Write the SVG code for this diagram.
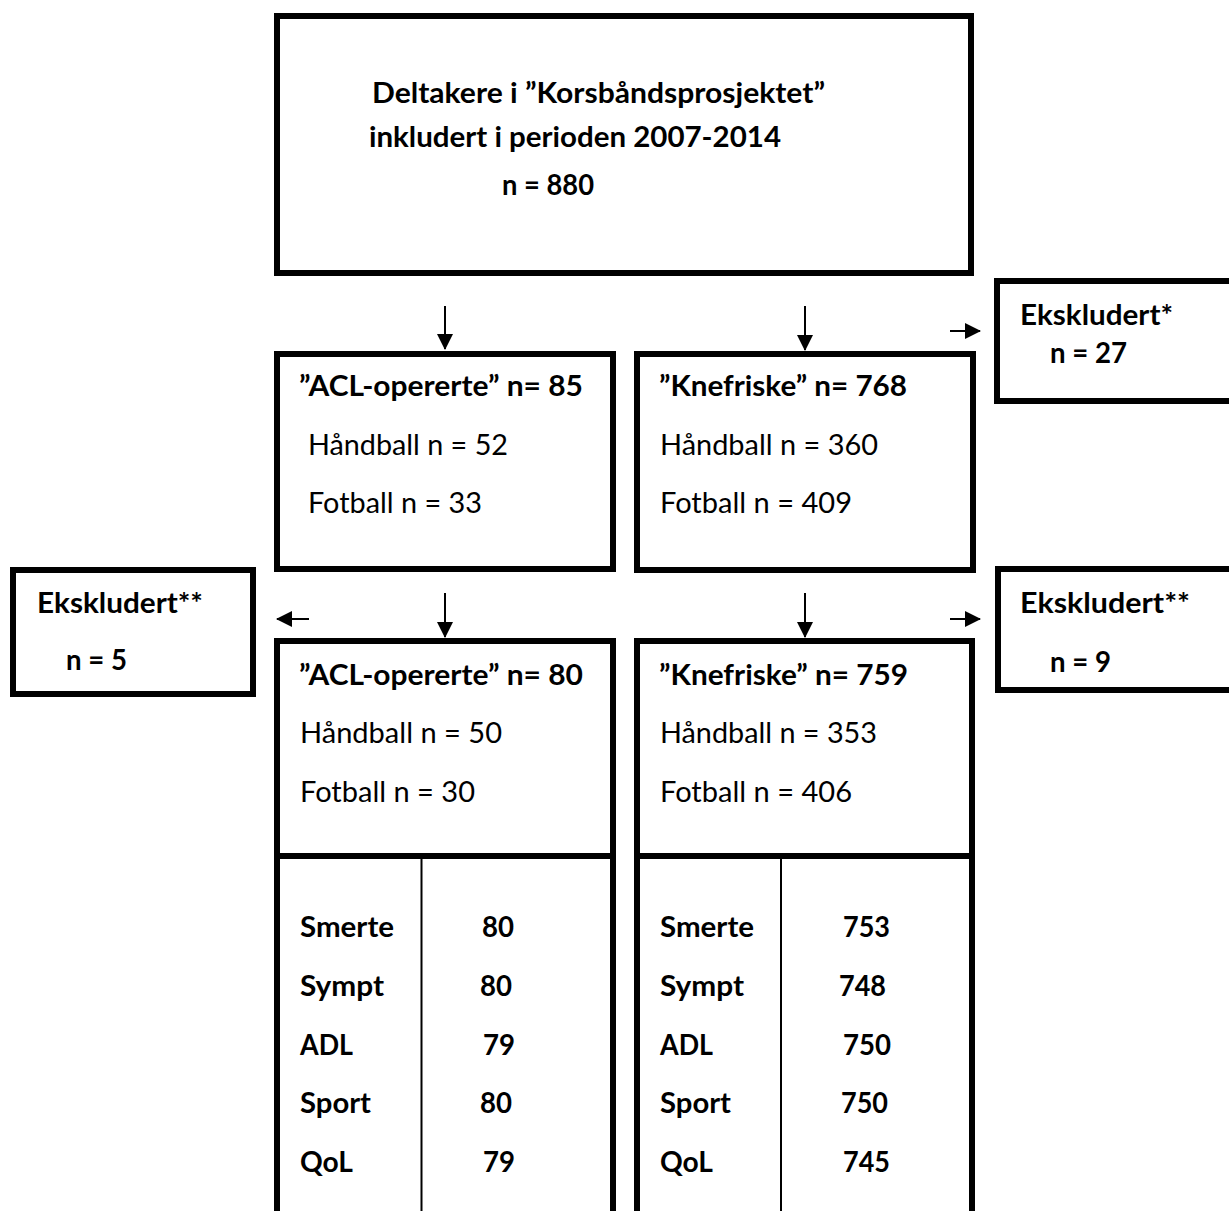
<svg xmlns="http://www.w3.org/2000/svg" width="1229" height="1211" viewBox="0 0 1229 1211">
<style>
  .box { fill: #ffffff; stroke: #000000; stroke-width: 6; }
  .thin { stroke: #000000; stroke-width: 2; fill: none; }
  .arr { stroke: #000000; stroke-width: 2; fill: none; marker-end: url(#ah); }
  text { font-family: Lato, "Open Sans", "Liberation Sans", sans-serif; font-size: 28.5px; fill: #000000; }
  .b { font-weight: bold; }
</style>
<defs>
  <marker id="ah" markerUnits="userSpaceOnUse" markerWidth="16" markerHeight="16" viewBox="0 0 16 16" refX="15" refY="8" orient="auto">
    <path d="M0,0 L16,8 L0,16 Z" fill="#000000"/>
  </marker>
</defs>
<rect width="1229" height="1211" fill="#ffffff"/>

<g id="connectors">
  <line class="arr" x1="445" y1="306" x2="445" y2="349"/>
  <line class="arr" x1="805" y1="306" x2="805" y2="350"/>
  <line class="arr" x1="950" y1="331" x2="980" y2="331"/>
  <line class="arr" x1="445" y1="593" x2="445" y2="637"/>
  <line class="arr" x1="805" y1="593" x2="805" y2="637"/>
  <line class="arr" x1="309" y1="619" x2="277" y2="619"/>
  <line class="arr" x1="950" y1="619" x2="980" y2="619"/>
</g>

<g id="top">
  <rect class="box" x="277" y="16" width="694" height="257"/>
  <text class="b" x="372" y="103" textLength="453" lengthAdjust="spacingAndGlyphs">Deltakere i ”Korsbåndsprosjektet”</text>
  <text class="b" x="369" y="147" textLength="412" lengthAdjust="spacingAndGlyphs">inkludert i perioden 2007-2014</text>
  <text class="b" x="502" y="195" textLength="92" lengthAdjust="spacingAndGlyphs">n = 880</text>
</g>

<g id="acl1">
  <rect class="box" x="277" y="354" width="336" height="215"/>
  <text class="b" x="299" y="396" textLength="284" lengthAdjust="spacingAndGlyphs">”ACL-opererte” n= 85</text>
  <text x="308" y="455" textLength="200" lengthAdjust="spacingAndGlyphs">Håndball n = 52</text>
  <text x="308" y="513" textLength="174" lengthAdjust="spacingAndGlyphs">Fotball n = 33</text>
</g>

<g id="kne1">
  <rect class="box" x="637" y="354" width="336" height="216"/>
  <text class="b" x="659" y="396" textLength="248" lengthAdjust="spacingAndGlyphs">”Knefriske” n= 768</text>
  <text x="660" y="455" textLength="218" lengthAdjust="spacingAndGlyphs">Håndball n = 360</text>
  <text x="660" y="513" textLength="192" lengthAdjust="spacingAndGlyphs">Fotball n = 409</text>
</g>

<g id="eks1">
  <rect class="box" x="997" y="281" width="240" height="120"/>
  <text class="b" x="1020" y="325" textLength="153" lengthAdjust="spacingAndGlyphs">Ekskludert*</text>
  <text class="b" x="1050" y="363" textLength="77" lengthAdjust="spacingAndGlyphs">n = 27</text>
</g>

<g id="eks2">
  <rect class="box" x="13" y="570" width="240" height="124"/>
  <text class="b" x="37" y="613" textLength="166" lengthAdjust="spacingAndGlyphs">Ekskludert**</text>
  <text class="b" x="66" y="670" textLength="61" lengthAdjust="spacingAndGlyphs">n = 5</text>
</g>

<g id="eks3">
  <rect class="box" x="998" y="569" width="240" height="121"/>
  <text class="b" x="1020" y="613" textLength="170" lengthAdjust="spacingAndGlyphs">Ekskludert**</text>
  <text class="b" x="1050" y="672" textLength="61" lengthAdjust="spacingAndGlyphs">n = 9</text>
</g>

<g id="acl2">
  <rect class="box" x="277" y="641" width="336" height="600"/>
  <line class="box" x1="277" y1="856" x2="613" y2="856"/>
  <line class="thin" x1="421.5" y1="856" x2="421.5" y2="1211"/>
  <text class="b" x="299" y="685" textLength="284" lengthAdjust="spacingAndGlyphs">”ACL-opererte” n= 80</text>
  <text x="300" y="743" textLength="202" lengthAdjust="spacingAndGlyphs">Håndball n = 50</text>
  <text x="300" y="802" textLength="175" lengthAdjust="spacingAndGlyphs">Fotball n = 30</text>
  <text class="b" x="300" y="937" textLength="94" lengthAdjust="spacingAndGlyphs">Smerte</text>
  <text class="b" x="482" y="937" textLength="32" lengthAdjust="spacingAndGlyphs">80</text>
  <text class="b" x="300" y="996" textLength="84" lengthAdjust="spacingAndGlyphs">Sympt</text>
  <text class="b" x="480" y="996" textLength="32" lengthAdjust="spacingAndGlyphs">80</text>
  <text class="b" x="300" y="1055" textLength="53" lengthAdjust="spacingAndGlyphs">ADL</text>
  <text class="b" x="483" y="1055" textLength="32" lengthAdjust="spacingAndGlyphs">79</text>
  <text class="b" x="300" y="1113" textLength="71" lengthAdjust="spacingAndGlyphs">Sport</text>
  <text class="b" x="480" y="1113" textLength="32" lengthAdjust="spacingAndGlyphs">80</text>
  <text class="b" x="300" y="1172" textLength="53" lengthAdjust="spacingAndGlyphs">QoL</text>
  <text class="b" x="483" y="1172" textLength="32" lengthAdjust="spacingAndGlyphs">79</text>
</g>

<g id="kne2">
  <rect class="box" x="637" y="641" width="335" height="600"/>
  <line class="box" x1="637" y1="856" x2="972" y2="856"/>
  <line class="thin" x1="781" y1="856" x2="781" y2="1211"/>
  <text class="b" x="659" y="685" textLength="249" lengthAdjust="spacingAndGlyphs">”Knefriske” n= 759</text>
  <text x="660" y="743" textLength="217" lengthAdjust="spacingAndGlyphs">Håndball n = 353</text>
  <text x="660" y="802" textLength="192" lengthAdjust="spacingAndGlyphs">Fotball n = 406</text>
  <text class="b" x="660" y="937" textLength="94" lengthAdjust="spacingAndGlyphs">Smerte</text>
  <text class="b" x="843" y="937" textLength="47" lengthAdjust="spacingAndGlyphs">753</text>
  <text class="b" x="660" y="996" textLength="84" lengthAdjust="spacingAndGlyphs">Sympt</text>
  <text class="b" x="839" y="996" textLength="47" lengthAdjust="spacingAndGlyphs">748</text>
  <text class="b" x="660" y="1055" textLength="53" lengthAdjust="spacingAndGlyphs">ADL</text>
  <text class="b" x="843" y="1055" textLength="48" lengthAdjust="spacingAndGlyphs">750</text>
  <text class="b" x="660" y="1113" textLength="71" lengthAdjust="spacingAndGlyphs">Sport</text>
  <text class="b" x="841" y="1113" textLength="47" lengthAdjust="spacingAndGlyphs">750</text>
  <text class="b" x="660" y="1172" textLength="53" lengthAdjust="spacingAndGlyphs">QoL</text>
  <text class="b" x="843" y="1172" textLength="47" lengthAdjust="spacingAndGlyphs">745</text>
</g>
</svg>
